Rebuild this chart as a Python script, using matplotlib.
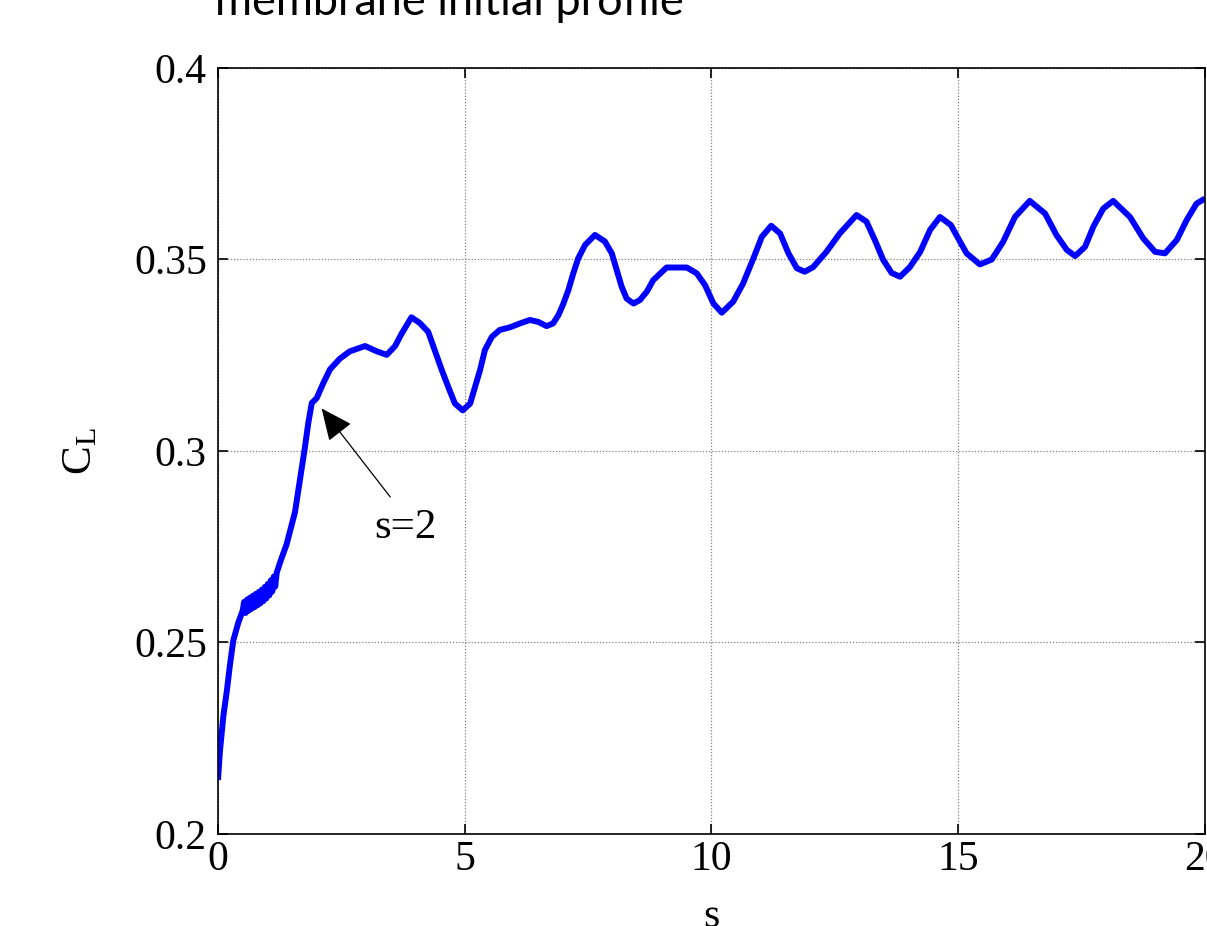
import matplotlib
matplotlib.use("Agg")
import matplotlib.pyplot as plt

# lift coefficient history, read along the run
s_vals = [
    0.00, 0.04, 0.11, 0.18, 0.24, 0.31, 0.41, 0.50,
    0.53, 0.56, 0.59, 0.62, 0.65, 0.68, 0.71, 0.74, 0.77, 0.80,
    0.83, 0.86, 0.89, 0.92, 0.95, 0.98, 1.01, 1.04, 1.07, 1.10,
    1.13, 1.16, 1.19, 1.28, 1.39, 1.56,
    1.66, 1.76, 1.83, 1.90, 2.00, 2.13, 2.27, 2.47, 2.67, 2.98,
    3.22, 3.42, 3.59, 3.72, 3.92, 4.09, 4.26, 4.39, 4.53, 4.67,
    4.80, 4.96, 5.11, 5.21, 5.31, 5.41, 5.55, 5.71, 5.92, 6.12,
    6.32, 6.49, 6.66, 6.79, 6.90, 7.00, 7.10, 7.20, 7.30, 7.44,
    7.64, 7.84, 7.98, 8.08, 8.18, 8.28, 8.42, 8.55, 8.69, 8.82,
    9.09, 9.50, 9.70, 9.87, 10.04, 10.21, 10.44, 10.64, 10.85, 11.02,
    11.21, 11.39, 11.56, 11.73, 11.89, 12.06, 12.33, 12.60, 12.94, 13.14,
    13.31, 13.48, 13.65, 13.82, 14.02, 14.23, 14.43, 14.63, 14.85, 15.00,
    15.17, 15.44, 15.68, 15.91, 16.15, 16.45, 16.76, 16.99, 17.20, 17.37,
    17.57, 17.74, 17.94, 18.14, 18.48, 18.75, 18.99, 19.19, 19.43, 19.63,
    19.83, 20.00,
]
cl_vals = [
    0.2141, 0.2217, 0.2309, 0.2374, 0.2439, 0.2505, 0.2551, 0.2583,
    0.2606, 0.2577, 0.2612, 0.2583, 0.2617, 0.2588, 0.2622, 0.2592, 0.2627, 0.2597,
    0.2632, 0.2602, 0.2638, 0.2608, 0.2645, 0.2615, 0.2653, 0.2623, 0.2662, 0.2633,
    0.2672, 0.2646, 0.2682, 0.2717, 0.2756, 0.2840,
    0.2924, 0.3008, 0.3073, 0.3125, 0.3138, 0.3176, 0.3213, 0.3241, 0.3260, 0.3274,
    0.3260, 0.3251, 0.3274, 0.3306, 0.3349, 0.3334, 0.3311, 0.3264, 0.3213, 0.3166,
    0.3124, 0.3106, 0.3124, 0.3168, 0.3211, 0.3264, 0.3298, 0.3316, 0.3323, 0.3333,
    0.3342, 0.3337, 0.3326, 0.3333, 0.3355, 0.3385, 0.3420, 0.3464, 0.3503, 0.3538,
    0.3564, 0.3547, 0.3516, 0.3473, 0.3429, 0.3398, 0.3385, 0.3394, 0.3416, 0.3446,
    0.3479, 0.3479, 0.3464, 0.3433, 0.3385, 0.3361, 0.3390, 0.3437, 0.3503, 0.3559,
    0.3588, 0.3568, 0.3516, 0.3477, 0.3468, 0.3480, 0.3520, 0.3568, 0.3616, 0.3599,
    0.3551, 0.3499, 0.3465, 0.3455, 0.3480, 0.3520, 0.3577, 0.3611, 0.3590, 0.3555,
    0.3516, 0.3487, 0.3500, 0.3546, 0.3611, 0.3653, 0.3620, 0.3564, 0.3525, 0.3509,
    0.3533, 0.3586, 0.3633, 0.3653, 0.3611, 0.3555, 0.3520, 0.3516, 0.3551, 0.3603,
    0.3646, 0.3659,
]

x_ticks = [0, 5, 10, 15, 20]
y_ticks = [0.2, 0.25, 0.3, 0.35, 0.4]
y_tick_labels = ["0.2", "0.25", "0.3", "0.35", "0.4"]

# marked point on the curve and where its label sits
mark_s, mark_cl = 2.10, 0.3111
tail_s, tail_cl = 3.49, 0.2880
label_s, label_cl = 3.80, 0.2800

serif = "Liberation Serif"

fig = plt.figure(figsize=(12.07, 9.26), dpi=100)
ax = fig.add_axes([0.1806, 0.0994, 0.8177, 0.8272])

ax.plot(s_vals, cl_vals, color="#0000ff", linewidth=4.3,
        solid_joinstyle="round", solid_capstyle="butt")

ax.set_xlim(0, 20)
ax.set_ylim(0.2, 0.4)
ax.set_xticks(x_ticks)
ax.set_yticks(y_ticks)
ax.set_xticklabels([str(t) for t in x_ticks], fontfamily=serif, fontsize=30)
ax.set_yticklabels(y_tick_labels, fontfamily=serif, fontsize=30)
ax.tick_params(axis="both", direction="in", length=7, width=1.2,
               top=True, right=True, colors="black")
ax.tick_params(axis="x", pad=5)
ax.tick_params(axis="y", pad=8)

ax.grid(True, color="0.5", linestyle=(0, (1, 1.5)), linewidth=0.9)
for sp in ax.spines.values():
    sp.set_linewidth(1.2)
    sp.set_color("black")

ax.set_xlabel("s", fontfamily=serif, fontsize=30, labelpad=13)
ax.set_ylabel(r"$\mathregular{C_L}$", fontfamily=serif, fontsize=31, labelpad=24)

ax.annotate("", xy=(mark_s, mark_cl), xytext=(tail_s, tail_cl),
            arrowprops=dict(arrowstyle="-|>,head_length=2.0,head_width=0.9",
                            color="black", lw=0.9, shrinkA=0, shrinkB=0))
ax.text(label_s, label_cl, "s=2", fontfamily=serif, fontsize=31,
        ha="center", va="center")

fig.text(215 / 1207, 1 - 15 / 926, "membrane initial profile",
         fontfamily="Lato", fontsize=32.5, ha="left", va="baseline")

fig.savefig("out.png", dpi=100)
